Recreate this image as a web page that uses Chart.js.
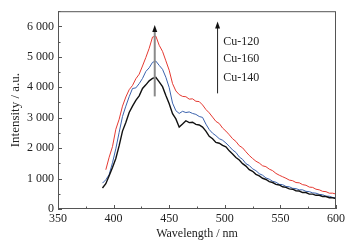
<!DOCTYPE html>
<html>
<head>
<meta charset="utf-8">
<script src="https://cdn.jsdelivr.net/npm/chart.js@4/dist/chart.umd.min.js"></script>
<style>
  html, body { margin: 0; padding: 0; background: #fff; }
  #wrap { width: 358px; height: 245px; }
</style>
</head>
<body>
<div id="wrap"><canvas id="spectra"></canvas></div>
<script>
const wavelengths = [390, 393, 396, 399, 402, 405, 408, 411, 414, 417, 420, 423, 426, 429, 432, 435, 438, 441, 444, 447,
  450, 453, 456, 459, 462, 465, 468, 471, 474, 477, 480, 483, 486, 489, 492, 495, 498, 501, 504, 507,
  510, 513, 516, 519, 522, 525, 528, 531, 534, 537, 540, 543, 546, 549, 552, 555, 558, 561, 564, 567,
  570, 573, 576, 579, 582, 585, 588, 591, 594, 597, 600];

// Cu-120 (red)
const cu120 = [null, 1290, 1700, 2050, 2620, 2950, 3380, 3680, 3920, 4060, 4280, 4430, 4700, 4980, 5280, 5650, 5680, 5380, 5180, 4870,
  4560, 4120, 3880, 3760, 3700, 3690, 3610, 3620, 3540, 3530, 3420, 3270, 3160, 3020, 2880, 2810, 2660, 2560, 2440, 2310,
  2220, 2080, 2010, 1880, 1760, 1660, 1570, 1510, 1420, 1390, 1310, 1260, 1170, 1110, 1060, 1010, 950, 930, 870, 860,
  800, 780, 720, 710, 650, 630, 580, 570, 520, 520, 490];

// Cu-160 (blue)
const cu160 = [850, 960, 1130, 1520, 1980, 2520, 3040, 3380, 3690, 3960, 3980, 4120, 4290, 4520, 4640, 4820, 4860, 4720, 4590, 4330,
  3990, 3480, 3230, 3140, 3210, 3170, 3190, 3140, 3110, 3040, 3010, 2790, 2610, 2490, 2410, 2310, 2260, 2170, 2060, 1940,
  1860, 1710, 1630, 1490, 1430, 1320, 1260, 1160, 1110, 1020, 980, 910, 880, 810, 800, 740, 730, 680, 670, 630,
  630, 580, 570, 530, 520, 480, 470, 420, 420, 380, 370];

// Cu-140 (black)
const cu140 = [690, 830, 1090, 1360, 1660, 2080, 2560, 2840, 3170, 3380, 3570, 3720, 3960, 4080, 4210, 4290, 4330, 4180, 4020, 3730,
  3460, 3130, 2960, 2690, 2790, 2900, 2840, 2850, 2780, 2760, 2690, 2560, 2390, 2310, 2190, 2160, 2090, 2040, 1910, 1810,
  1690, 1610, 1490, 1410, 1290, 1240, 1140, 1090, 1010, 970, 900, 870, 810, 790, 730, 710, 660, 650, 600, 590,
  540, 540, 490, 490, 450, 450, 410, 410, 370, 370, 340];

const xTicks = [350, 400, 450, 500, 550, 600];
const xMinorTicks = [375, 425, 475, 525, 575];
const yTicks = [0, 1000, 2000, 3000, 4000, 5000, 6000];
const yMinorTicks = [500, 1500, 2500, 3500, 4500, 5500, 6500];

const legendLabels = ['Cu-120', 'Cu-160', 'Cu-140'];
const legendY = [5494, 4924, 4323];

const FONT = 'Liberation Serif';

function toPoints(values) {
  return wavelengths.map((w, i) => ({ x: w, y: values[i] })).filter(p => p.y !== null);
}

// frame, inward ticks, arrows and labels
const decorations = {
  id: 'decorations',
  afterDatasetsDraw(chart) {
    const { ctx, chartArea: a, scales: { x, y } } = chart;
    ctx.save();

    // arrows
    function arrow(wl, from, to, color, width) {
      const px = x.getPixelForValue(wl);
      const y0 = y.getPixelForValue(from);
      const y1 = y.getPixelForValue(to);
      ctx.strokeStyle = color;
      ctx.lineWidth = width;
      ctx.beginPath();
      ctx.moveTo(px, y0);
      ctx.lineTo(px, y1 + 5);
      ctx.stroke();
      ctx.fillStyle = '#111';
      ctx.beginPath();
      ctx.moveTo(px, y1);
      ctx.lineTo(px - 2.5, y1 + 7);
      ctx.lineTo(px + 2.5, y1 + 7);
      ctx.closePath();
      ctx.fill();
    }
    arrow(437, 3700, 6050, '#8a8a8a', 2);
    arrow(493.5, 3800, 6160, '#222', 1);

    ctx.fillStyle = '#222';
    ctx.font = '12px "' + FONT + '"';
    ctx.textAlign = 'left';
    ctx.textBaseline = 'middle';
    legendLabels.forEach((t, i) => {
      ctx.fillText(t, x.getPixelForValue(498.5), y.getPixelForValue(legendY[i]));
    });

    // frame
    ctx.strokeStyle = '#555';
    ctx.lineWidth = 1;
    ctx.strokeRect(a.left + 0.5, a.top + 0.5, a.right - a.left - 1, a.bottom - a.top - 1);

    // ticks (inside)
    ctx.beginPath();
    xTicks.forEach(v => {
      const px = Math.round(x.getPixelForValue(v)) + 0.5;
      ctx.moveTo(px, a.bottom); ctx.lineTo(px, a.bottom - 4);
    });
    xMinorTicks.forEach(v => {
      const px = Math.round(x.getPixelForValue(v)) + 0.5;
      ctx.moveTo(px, a.bottom); ctx.lineTo(px, a.bottom - 2.5);
    });
    yTicks.forEach(v => {
      const py = Math.round(y.getPixelForValue(v)) + 0.5;
      ctx.moveTo(a.left, py); ctx.lineTo(a.left + 4, py);
    });
    yMinorTicks.forEach(v => {
      const py = Math.round(y.getPixelForValue(v)) + 0.5;
      ctx.moveTo(a.left, py); ctx.lineTo(a.left + 2.5, py);
    });
    ctx.stroke();
    ctx.restore();
  }
};

new Chart(document.getElementById('spectra'), {
  type: 'line',
  data: {
    datasets: [
      { label: 'Cu-140', data: toPoints(cu140), borderColor: '#111111', borderWidth: 1.4 },
      { label: 'Cu-160', data: toPoints(cu160), borderColor: '#3b62ad', borderWidth: 1 },
      { label: 'Cu-120', data: toPoints(cu120), borderColor: '#e53a32', borderWidth: 1 }
    ]
  },
  options: {
    responsive: true,
    maintainAspectRatio: false,
    animation: false,
    events: [],
    layout: { padding: { top: 3, right: 22, left: 0, bottom: 0 } },
    elements: { point: { radius: 0 }, line: { tension: 0 } },
    plugins: { legend: { display: false }, tooltip: { enabled: false } },
    scales: {
      x: {
        type: 'linear',
        min: 350,
        max: 600,
        afterBuildTicks: scale => { scale.ticks = xTicks.map(v => ({ value: v })); },
        afterFit: scale => { scale.height = 36; },
        grid: { display: false, drawTicks: false },
        border: { display: false },
        ticks: { color: '#222', padding: 3, maxRotation: 0, font: { family: FONT, size: 12 } },
        title: {
          display: true,
          text: 'Wavelength / nm',
          color: '#222',
          padding: { top: 0, bottom: 4 },
          font: { family: FONT, size: 12 }
        }
      },
      y: {
        min: 0,
        max: 6500,
        afterBuildTicks: scale => { scale.ticks = yTicks.map(v => ({ value: v })); },
        afterFit: scale => { scale.width = 58; },
        grid: { display: false, drawTicks: false },
        border: { display: false },
        ticks: {
          color: '#222',
          padding: 4,
          font: { family: FONT, size: 12 },
          callback: v => v >= 1000 ? Math.floor(v / 1000) + ' ' + String(v % 1000).padStart(3, '0') : String(v)
        },
        title: {
          display: true,
          text: 'Intensity / a.u.',
          color: '#222',
          padding: { top: 8, bottom: 0 },
          font: { family: FONT, size: 13 }
        }
      }
    }
  },
  plugins: [decorations]
});
</script>
</body>
</html>
